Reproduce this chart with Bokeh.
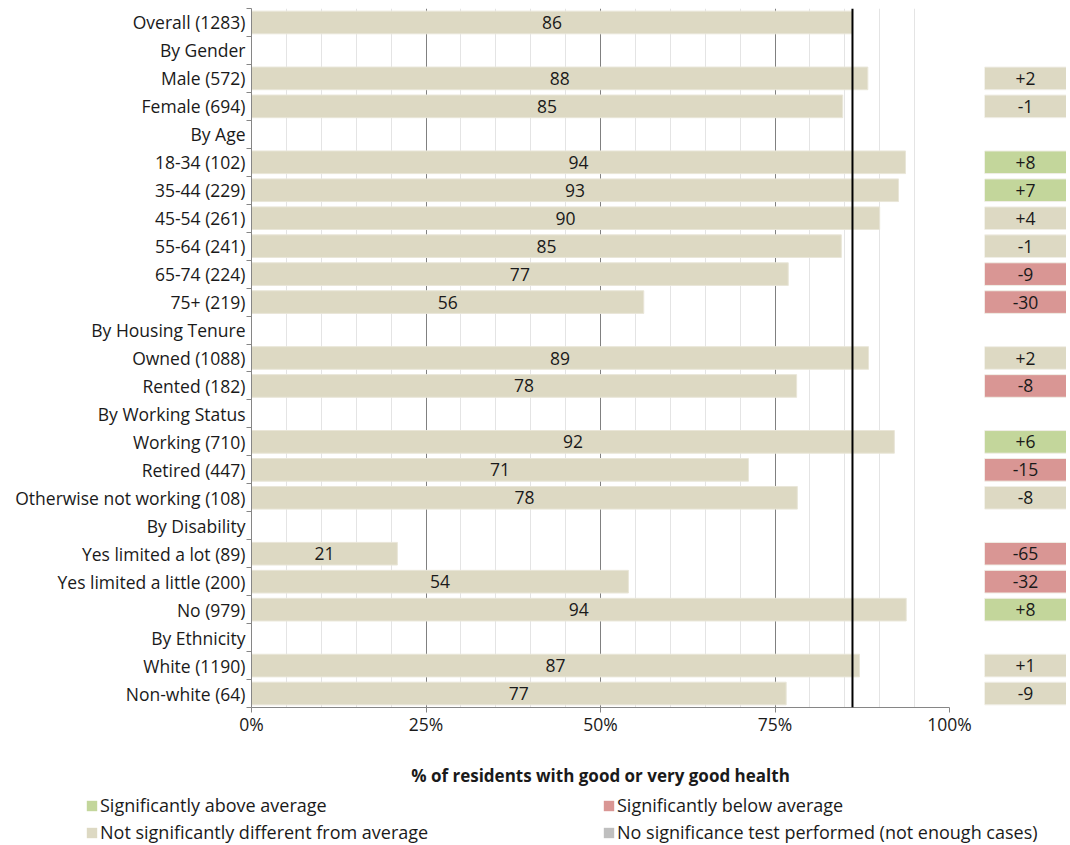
from bokeh.plotting import figure
from bokeh.models import Range1d, FixedTicker, Span, ColumnDataSource, Legend, LegendItem
from bokeh.layouts import row, column
from bokeh.embed import file_html
from bokeh.resources import INLINE
from bokeh.core.properties import value

categories = ["Overall (1283)", "By Gender", "Male (572)", "Female (694)", "By Age",
              "18-34 (102)", "35-44 (229)", "45-54 (261)", "55-64 (241)", "65-74 (224)", "75+ (219)",
              "By Housing Tenure", "Owned (1088)", "Rented (182)", "By Working Status",
              "Working (710)", "Retired (447)", "Otherwise not working (108)", "By Disability",
              "Yes limited a lot (89)", "Yes limited a little (200)", "No (979)", "By Ethnicity",
              "White (1190)", "Non-white (64)"]
pct = [86.1, None, 88.3, 84.7, None, 93.7, 92.7, 90.0, 84.5, 76.9, 56.2, None, 88.4, 78.1, None,
       92.1, 71.2, 78.2, None, 20.9, 54.0, 93.8, None, 87.1, 76.6]
pct_labels = ["86", "", "88", "85", "", "94", "93", "90", "85", "77", "56", "", "89", "78", "",
              "92", "71", "78", "", "21", "54", "94", "", "87", "77"]
diff_labels = ["", "", "+2", "-1", "", "+8", "+7", "+4", "-1", "-9", "-30", "", "+2", "-8", "",
               "+6", "-15", "-8", "", "-65", "-32", "+8", "", "+1", "-9"]
significance = [None, None, "ns", "ns", None, "above", "above", "ns", "ns", "below", "below", None,
                "ns", "below", None, "above", "below", "ns", None, "below", "below", "above", None,
                "ns", "ns"]
x_ticks = [0, 25, 50, 75, 100]
x_tick_labels = ["0%", "25%", "50%", "75%", "100%"]
x_title = "% of residents with good or very good health"
legend_keys = ["above", "below", "ns", "none"]
legend_labels = ["Significantly above average", "Significantly below average",
                 "Not significantly different from average",
                 "No significance test performed (not enough cases)"]

COLORS = {"above": "#C3D69B", "below": "#D99694", "ns": "#DDD9C3", "none": "#BFBFBF"}
FONT = value("Open Sans")
FS = "17.5px"
TXT = "#1a1a1a"
AX = "#868686"

n = len(categories)
rows = list(range(n))

bar_src = ColumnDataSource(dict(
    y=[i for i in rows if pct[i] is not None],
    v=[pct[i] for i in rows if pct[i] is not None],
    mid=[pct[i] / 2 for i in rows if pct[i] is not None],
    lab=[pct_labels[i] for i in rows if pct[i] is not None],
))
diff_src = ColumnDataSource(dict(
    y=[i for i in rows if significance[i] is not None],
    lab=[diff_labels[i] for i in rows if significance[i] is not None],
    color=[COLORS[significance[i]] for i in rows if significance[i] is not None],
))

y_range = Range1d(n - 0.5, -0.5)

p = figure(frame_width=698, frame_height=699, x_range=Range1d(0, 100), y_range=y_range,
           output_backend="svg", toolbar_location=None,
           min_border_left=251, min_border_right=25, min_border_top=8, min_border_bottom=83)
p.outline_line_color = None
p.background_fill_color = "white"

# grid
p.ygrid.visible = False
p.xgrid.ticker = FixedTicker(ticks=x_ticks[1:], minor_ticks=[t for t in range(5, 100, 5) if t % 25])
p.xgrid.grid_line_color = "#808080"
p.xgrid.grid_line_width = 1
p.xgrid.minor_grid_line_color = "#e4e4e4"

p.hbar(y="y", left=0, right="v", height=0.81, source=bar_src, fill_color=COLORS["ns"],
       line_color="#e9e6d8", line_width=1)
p.text(x="mid", y="y", text="lab", source=bar_src, text_align="center", text_baseline="middle",
       text_font=FONT, text_font_size=FS, text_color=TXT)
p.add_layout(Span(location=pct[0], dimension="height", line_color="black", line_width=2))

# x axis
xa = p.xaxis[0]
xa.ticker = FixedTicker(ticks=x_ticks, minor_ticks=[])
xa.major_label_overrides = dict(zip(x_ticks, x_tick_labels))
xa.axis_line_color = AX
xa.major_tick_line_color = AX
xa.major_tick_out = 5
xa.major_tick_in = 0
xa.minor_tick_line_color = None
xa.major_label_text_font = "Open Sans"
xa.major_label_text_font_size = FS
xa.major_label_text_color = TXT
xa.major_label_standoff = -1
xa.axis_label = x_title
xa.axis_label_text_font = "Open Sans"
xa.axis_label_text_font_size = "17px"
xa.axis_label_text_font_style = "bold"
xa.axis_label_text_color = TXT
xa.axis_label_standoff = 25

# y axis
ya = p.yaxis[0]
ya.ticker = FixedTicker(ticks=rows, minor_ticks=[i - 0.5 for i in range(n + 1)])
ya.major_label_overrides = dict(zip(rows, categories))
ya.axis_line_color = AX
ya.major_tick_line_color = None
ya.major_tick_out = 0
ya.major_tick_in = 0
ya.minor_tick_line_color = AX
ya.minor_tick_out = 5
ya.minor_tick_in = 0
ya.major_label_text_font = "Open Sans"
ya.major_label_text_font_size = FS
ya.major_label_text_color = TXT
ya.major_label_standoff = 1

# right significance boxes
q = figure(frame_width=82, frame_height=699, x_range=Range1d(0, 1), y_range=y_range,
           output_backend="svg", toolbar_location=None, x_axis_location=None, y_axis_location=None,
           min_border_left=10, min_border_right=0, min_border_top=8, min_border_bottom=83)
q.outline_line_color = None
q.grid.visible = False
q.hbar(y="y", left=0, right=1, height=0.81, source=diff_src, fill_color="color",
       line_color="#f0eee6", line_width=1)
q.text(x=0.5, y="y", text="lab", source=diff_src, text_align="center", text_baseline="middle",
       text_font=FONT, text_font_size=FS, text_color=TXT)

# legend strip
lg = figure(frame_width=1066, frame_height=55, x_range=Range1d(0, 1), y_range=Range1d(0, 1),
            output_backend="svg", toolbar_location=None, x_axis_location=None, y_axis_location=None,
            min_border_left=0, min_border_right=0, min_border_top=0, min_border_bottom=0)
lg.outline_line_color = None
lg.grid.visible = False
nan = float("nan")
rend = {}
for k in legend_keys:
    rend[k] = lg.quad(left=[nan], right=[nan], top=[nan], bottom=[nan],
                      fill_color=COLORS[k], line_color=None)
lab_of = dict(zip(legend_keys, legend_labels))


def make_legend(keys, loc):
    return Legend(items=[LegendItem(label=lab_of[k], renderers=[rend[k]]) for k in keys],
                  location=loc, orientation="vertical", padding=0, margin=0, spacing=3,
                  glyph_width=13, glyph_height=13, label_standoff=2, label_height=21,
                  label_text_font="Open Sans", label_text_font_size="18px",
                  label_text_color=TXT, border_line_color=None, background_fill_alpha=0)


lg.add_layout(make_legend(["above", "ns"], (85, 1)))
lg.add_layout(make_legend(["below", "none"], (602, 1)))

layout = column(row(p, q), lg)
open("out.html", "w").write(file_html(layout, INLINE))
